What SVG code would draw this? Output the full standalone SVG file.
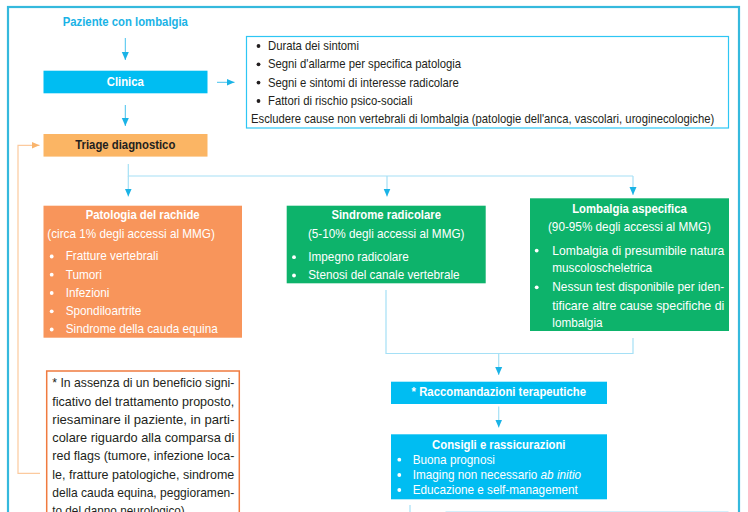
<svg xmlns="http://www.w3.org/2000/svg" width="748" height="512" viewBox="0 0 748 512">
<style>
text{font-family:"Liberation Sans",Arial,sans-serif}
.b{font-weight:bold;font-size:13.5px}
.r{font-size:13px}
.w{fill:#ffffff}
.k{fill:#231f20}
.m{text-anchor:middle}
.ln{fill:none;stroke:#45c2ee;stroke-width:1}
.lt{fill:none;stroke:#a5e0f6;stroke-width:1.2}
.lo{fill:none;stroke:#fcca9e;stroke-width:1.2}
</style>
<defs>
<marker id="ac" viewBox="0 0 8 8" refX="8" refY="4" markerWidth="8" markerHeight="8" markerUnits="userSpaceOnUse" orient="auto"><path d="M0,0.5 L8,4 L0,7.5 z" fill="#1ab3e6"/></marker>
<marker id="ao" viewBox="0 0 8 8" refX="8" refY="4" markerWidth="8" markerHeight="8" markerUnits="userSpaceOnUse" orient="auto"><path d="M0,0.5 L8,4 L0,7.5 z" fill="#f9b46c"/></marker>
</defs>
<rect x="0" y="0" width="748" height="512" fill="#ffffff"/>
<rect id="frame" x="8" y="7" width="731" height="530" fill="none" stroke="#35b9dd" stroke-width="2.2"/>

<g id="connectors">
<path class="ln" d="M125.3,38 V60" marker-end="url(#ac)"/>
<path class="ln" d="M217,82.3 H234.5" marker-end="url(#ac)"/>
<path class="ln" d="M125.3,105 V126" marker-end="url(#ac)"/>
<path class="lo" d="M40,473.3 H18 V145.3 H39.5" marker-end="url(#ao)"/>
<path class="lt" d="M128.3,164 V176 H633"/>
<path class="lt" d="M128.3,176 V196.5" marker-end="url(#ac)"/>
<path class="lt" d="M387,176 V196.5" marker-end="url(#ac)"/>
<path class="lt" d="M633,176 V195" marker-end="url(#ac)"/>
<path class="lt" d="M386,290 V353.5 H633 V338"/>
<path class="lt" d="M498.7,353.5 V375" marker-end="url(#ac)"/>
<path class="lt" d="M498.7,406.5 V427.5" marker-end="url(#ac)"/>
<path class="lt" d="M410,505 V512"/>
</g>

<g id="paziente">
<text class="b m" x="125.3" y="26" fill="#1ab3e6" transform="matrix(0.84 0 0 1 20.05 0)">Paziente con lombalgia</text>
</g>

<g id="clinica">
<rect x="43.5" y="70.7" width="164" height="22.6" fill="#00bdf2"/>
<text class="b m w" x="125.3" y="86.5" transform="matrix(0.84 0 0 1 20.05 0)">Clinica</text>
</g>

<g id="info">
<rect x="246.5" y="36.5" width="482" height="91.5" fill="none" stroke="#2ec6f4" stroke-width="1.2"/>
<g class="k">
<circle cx="258.5" cy="46" r="1.9"/>
<circle cx="258.5" cy="64.3" r="1.9"/>
<circle cx="258.5" cy="82.6" r="1.9"/>
<circle cx="258.5" cy="101" r="1.9"/>
</g>
<g transform="matrix(0.87 0 0 1 34.84 0)">
<text class="r k" x="268" y="50">Durata dei sintomi</text>
<text class="r k" x="268" y="68.3">Segni d'allarme per specifica patologia</text>
<text class="r k" x="268" y="86.6">Segni e sintomi di interesse radicolare</text>
<text class="r k" x="268" y="105">Fattori di rischio psico-sociali</text>
</g>
<text class="r k" x="251" y="123" transform="matrix(0.866 0 0 1 33.63 0)">Escludere cause non vertebrali di lombalgia (patologie dell'anca, vascolari, uroginecologiche)</text>
</g>

<g id="triage">
<rect x="43.5" y="134" width="164" height="22.6" fill="#fbb564"/>
<text class="b m k" x="125.3" y="149.5" transform="matrix(0.84 0 0 1 20.05 0)">Triage diagnostico</text>
</g>

<g id="patologia">
<rect x="43.5" y="205.7" width="198.5" height="132" fill="#f8955b"/>
<text class="b m w" x="142.7" y="219.5" transform="matrix(0.84 0 0 1 22.83 0)">Patologia del rachide</text>
<text class="r w" x="47.3" y="238" transform="matrix(0.904 0 0 1 4.54 0)">(circa 1% degli accessi al MMG)</text>
<g class="w">
<circle cx="51.7" cy="256.5" r="1.9"/>
<circle cx="51.7" cy="274.7" r="1.9"/>
<circle cx="51.7" cy="293" r="1.9"/>
<circle cx="51.7" cy="311.3" r="1.9"/>
<circle cx="51.7" cy="329.5" r="1.9"/>
</g>
<g transform="matrix(0.904 0 0 1 6.31 0)">
<text class="r w" x="65.7" y="260.5">Fratture vertebrali</text>
<text class="r w" x="65.7" y="278.7">Tumori</text>
<text class="r w" x="65.7" y="297">Infezioni</text>
<text class="r w" x="65.7" y="315.3">Spondiloartrite</text>
<text class="r w" x="65.7" y="333.5">Sindrome della cauda equina</text>
</g>
</g>

<g id="radicolare">
<rect x="286.7" y="205.7" width="199" height="77.6" fill="#0db36b"/>
<text class="b m w" x="386.2" y="219.5" transform="matrix(0.84 0 0 1 61.79 0)">Sindrome radicolare</text>
<text class="r m w" x="386.2" y="237.8" transform="matrix(0.904 0 0 1 37.08 0)">(5-10% degli accessi al MMG)</text>
<g class="w">
<circle cx="294" cy="257.2" r="1.9"/>
<circle cx="294" cy="275.5" r="1.9"/>
</g>
<g transform="matrix(0.904 0 0 1 29.6 0)">
<text class="r w" x="308.3" y="261.2">Impegno radicolare</text>
<text class="r w" x="308.3" y="279.5">Stenosi del canale vertebrale</text>
</g>
</g>

<g id="aspecifica">
<rect x="530" y="198.3" width="199" height="132.7" fill="#0db36b"/>
<text class="b m w" x="629.5" y="213" transform="matrix(0.84 0 0 1 100.72 0)">Lombalgia aspecifica</text>
<text class="r m w" x="629.5" y="231.3" transform="matrix(0.904 0 0 1 60.43 0)">(90-95% degli accessi al MMG)</text>
<g class="w">
<circle cx="536.7" cy="250.6" r="1.9"/>
<circle cx="536.7" cy="287.3" r="1.9"/>
</g>
<text class="r w" x="552.3" y="254.6" textLength="172" lengthAdjust="spacingAndGlyphs">Lombalgia di presumibile natura</text>
<text class="r w" x="552.3" y="272.3" transform="matrix(0.904 0 0 1 53.02 0)">muscoloscheletrica</text>
<text class="r w" x="552.3" y="291.3" textLength="172" lengthAdjust="spacingAndGlyphs">Nessun test disponibile per iden-</text>
<text class="r w" x="552.3" y="309.6" textLength="172" lengthAdjust="spacingAndGlyphs">tificare altre cause specifiche di</text>
<text class="r w" x="552.3" y="327.3" transform="matrix(0.904 0 0 1 53.02 0)">lombalgia</text>
</g>

<g id="nota">
<rect x="46.7" y="371" width="192.6" height="160" fill="none" stroke="#f07b3f" stroke-width="1.5"/>
<text class="r k" x="52.3" y="387.2" textLength="182" lengthAdjust="spacingAndGlyphs">* In assenza di un beneficio signi-</text>
<text class="r k" x="52.3" y="405.5" textLength="182" lengthAdjust="spacingAndGlyphs">ficativo del trattamento proposto,</text>
<text class="r k" x="52.3" y="423.8" textLength="182" lengthAdjust="spacingAndGlyphs">riesaminare il paziente, in parti-</text>
<text class="r k" x="52.3" y="442" textLength="182" lengthAdjust="spacingAndGlyphs">colare riguardo alla comparsa di</text>
<text class="r k" x="52.3" y="460.3" textLength="182" lengthAdjust="spacingAndGlyphs">red flags (tumore, infezione loca-</text>
<text class="r k" x="52.3" y="478.5" textLength="182" lengthAdjust="spacingAndGlyphs">le, fratture patologiche, sindrome</text>
<text class="r k" x="52.3" y="497" textLength="182" lengthAdjust="spacingAndGlyphs">della cauda equina, peggioramen-</text>
<text class="r k" x="52.3" y="515" transform="matrix(0.904 0 0 1 5.02 0)">to del danno neurologico)</text>
</g>

<g id="raccomandazioni">
<rect x="391" y="381.7" width="216" height="22.3" fill="#00bdf2"/>
<text class="b m w" x="498.8" y="396.5" transform="matrix(0.84 0 0 1 79.8 0)">* Raccomandazioni terapeutiche</text>
</g>

<g id="consigli">
<rect x="391" y="434.3" width="216" height="65" fill="#00bdf2"/>
<text class="b m w" x="498.8" y="449" transform="matrix(0.84 0 0 1 79.8 0)">Consigli e rassicurazioni</text>
<g class="w">
<circle cx="399.3" cy="459.7" r="1.9"/>
<circle cx="399.3" cy="475" r="1.9"/>
<circle cx="399.3" cy="490" r="1.9"/>
</g>
<g transform="matrix(0.904 0 0 1 39.62 0)">
<text class="r w" x="412.7" y="463.7">Buona prognosi</text>
<text class="r w" x="412.7" y="479">Imaging non necessario <tspan font-style="italic">ab initio</tspan></text>
<text class="r w" x="412.7" y="494">Educazione e self-management</text>
</g>
</g>

<g id="next">
<rect x="446" y="511.7" width="282" height="20" fill="none" stroke="#c8ecfa" stroke-width="1"/>
</g>
</svg>
